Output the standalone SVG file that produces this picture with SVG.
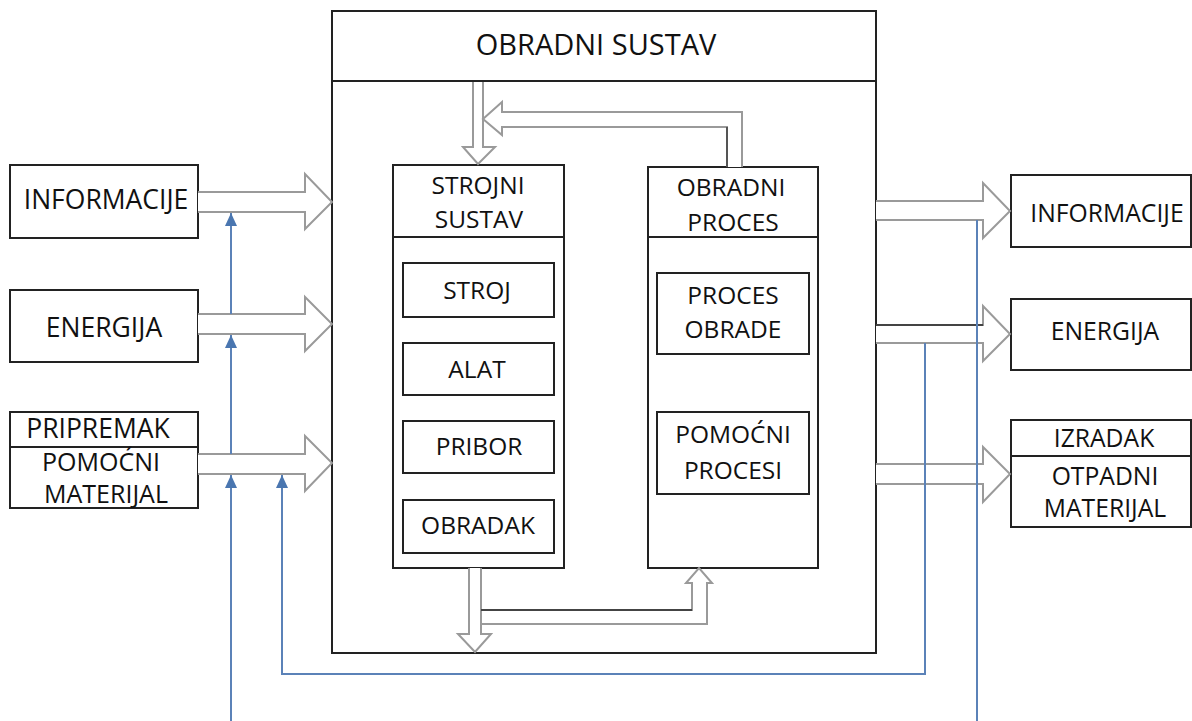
<svg xmlns="http://www.w3.org/2000/svg" width="1192" height="721" viewBox="0 0 1192 721">
<defs>
<style>
.box{fill:#fff;stroke:#222;stroke-width:2}
.ln{fill:none;stroke:#222;stroke-width:2}
.t{font-family:"Open Sans","Liberation Sans",sans-serif;fill:#111;text-anchor:middle}
.blk{fill:#fff;stroke:#9a9a9a;stroke-width:2;stroke-linejoin:miter}
.blue{fill:none;stroke:#5b82b8;stroke-width:2}
</style>
<marker id="ah" viewBox="0 0 13 12" refX="13" refY="6" markerWidth="13" markerHeight="12" markerUnits="userSpaceOnUse" orient="auto">
<path d="M0 0 L13 6 L0 12 Z" fill="#4a76b0"/>
</marker>
</defs>
<rect width="1192" height="721" fill="#fff"/>

<g id="obradni-sustav">
<rect class="box" x="332" y="11" width="544" height="642"/>
<line class="ln" x1="332" y1="81" x2="876" y2="81"/>
<text class="t" x="596" y="55" font-size="29">OBRADNI SUSTAV</text>
</g>

<g id="strojni-sustav">
<rect class="box" x="393" y="165" width="171" height="403"/>
<line class="ln" x1="393" y1="237" x2="564" y2="237"/>
<text class="t" x="478" y="194" font-size="24.5">STROJNI</text>
<text class="t" x="479" y="228" font-size="24.5">SUSTAV</text>
</g>
<g id="stroj"><rect class="box" x="403" y="263" width="151" height="54"/><text class="t" x="477" y="299" font-size="24.5">STROJ</text></g>
<g id="alat"><rect class="box" x="403" y="343" width="151" height="52"/><text class="t" x="477" y="378" font-size="24.5">ALAT</text></g>
<g id="pribor"><rect class="box" x="403" y="421" width="151" height="52"/><text class="t" x="479" y="455" font-size="24.5">PRIBOR</text></g>
<g id="obradak"><rect class="box" x="403" y="500" width="151" height="53"/><text class="t" x="478" y="534" font-size="24.5">OBRADAK</text></g>

<g id="obradni-proces">
<rect class="box" x="648" y="167" width="170" height="401"/>
<line class="ln" x1="648" y1="237" x2="818" y2="237"/>
<text class="t" x="731" y="196" font-size="24.5">OBRADNI</text>
<text class="t" x="733" y="231" font-size="24.5">PROCES</text>
</g>
<g id="proces-obrade"><rect class="box" x="657" y="273" width="152" height="81"/><text class="t" x="733" y="304" font-size="24.5">PROCES</text><text class="t" x="733" y="338" font-size="24.5">OBRADE</text></g>
<g id="pomocni-procesi"><rect class="box" x="657" y="412" width="152" height="82"/><text class="t" x="733" y="443" font-size="24.5">POMOĆNI</text><text class="t" x="733" y="479" font-size="24.5">PROCESI</text></g>

<g id="in-informacije"><rect class="box" x="10" y="165" width="188" height="73"/><text class="t" x="106" y="209" font-size="26.5">INFORMACIJE</text></g>
<g id="in-energija"><rect class="box" x="10" y="290" width="188" height="72"/><text class="t" x="104" y="337" font-size="26.5">ENERGIJA</text></g>
<g id="in-materijal">
<rect class="box" x="10" y="412" width="188" height="96"/>
<line class="ln" x1="10" y1="447" x2="198" y2="447"/>
<text class="t" x="98" y="438" font-size="26.5">PRIPREMAK</text>
<text class="t" x="101" y="471" font-size="25">POMOĆNI</text>
<text class="t" x="106" y="503" font-size="25">MATERIJAL</text>
</g>

<g id="out-informacije"><rect class="box" x="1011" y="175" width="180" height="72"/><text class="t" x="1107" y="222" font-size="24.7">INFORMACIJE</text></g>
<g id="out-energija"><rect class="box" x="1011" y="299" width="180" height="71"/><text class="t" x="1105" y="340" font-size="24.7">ENERGIJA</text></g>
<g id="out-izradak">
<rect class="box" x="1011" y="420" width="180" height="107"/>
<line class="ln" x1="1011" y1="456" x2="1191" y2="456"/>
<text class="t" x="1104" y="447" font-size="24.7">IZRADAK</text>
<text class="t" x="1105" y="485" font-size="24.7">OTPADNI</text>
<text class="t" x="1105" y="517" font-size="24.7">MATERIJAL</text>
</g>

<g id="connectors">
<path class="blk" d="M198 192 H305 V174 L332 202 L305 229 V212 H198"/>
<path class="blk" d="M198 314 H305 V297 L332 324 L305 351 V334 H198"/>
<path class="blk" d="M198 454 H305 V436 L332 463 L305 491 V474 H198"/>
<path class="blk" d="M876 201 H983 V183 L1010 211 L983 238 V220 H876"/>
<path class="blk" d="M876 325 H983 V306 L1010 334 L983 361 V343 H876"/>
<line x1="876" y1="325" x2="983" y2="325" stroke="#444" stroke-width="2"/>
<path class="blk" d="M876 464 H983 V447 L1010 474 L983 502 V484 H876"/>

<path class="blk" d="M473 82 V147 H463 L478 164 L495 147 H483 V82"/>
<path class="blk" d="M727 167 V127 H502 V135 L483 119 L502 102 V112 H742 V167"/>
<line x1="727" y1="167" x2="727" y2="127" stroke="#555" stroke-width="2"/>

<path class="blk" d="M469 568 V634 H458 L475 652 L491 634 H481 V568"/>
<path class="blk" d="M481 610 H692 V583 H686 L699 568 L712 583 H707 V624 H481 Z"/>
<line x1="481" y1="610" x2="692" y2="610" stroke="#444" stroke-width="2"/>

<line class="blue" x1="231" y1="721" x2="231" y2="475" marker-end="url(#ah)"/>
<line class="blue" x1="231" y1="454" x2="231" y2="335" marker-end="url(#ah)"/>
<line class="blue" x1="231" y1="314" x2="231" y2="213" marker-end="url(#ah)"/>
<polyline class="blue" points="925,343 925,674 282,674 282,475" marker-end="url(#ah)"/>
<line class="blue" x1="977" y1="220" x2="977" y2="721"/>
</g>
</svg>
